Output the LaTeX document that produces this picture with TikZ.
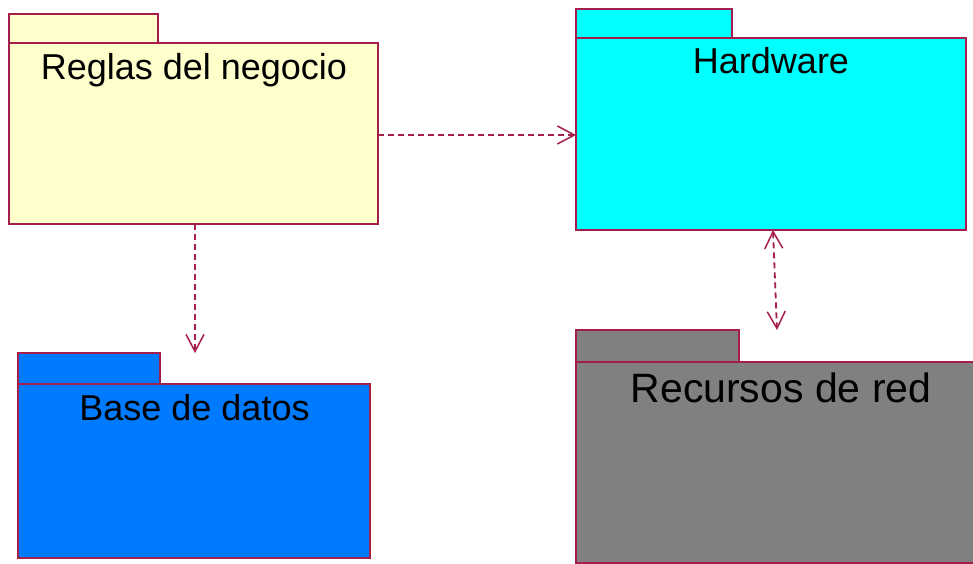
\documentclass[tikz,border=0pt]{standalone}
\usepackage{fontspec}
\setmainfont{Liberation Sans}
\usetikzlibrary{arrows.meta}
\definecolor{edge}{RGB}{165,30,75}
\definecolor{pyellow}{RGB}{255,255,204}
\definecolor{pcyan}{RGB}{0,255,255}
\definecolor{pblue}{RGB}{0,123,255}
\definecolor{pgray}{RGB}{128,128,128}
\tikzset{
  pkg/.style={draw=edge, line width=1.5pt, rectangle, inner sep=0pt, outer sep=0pt, anchor=north west},
  lbl/.style={anchor=base, inner sep=0pt, font=\fontsize{36}{40}\selectfont},
  dep/.style={draw=edge, line width=1.8pt, dash pattern=on 6pt off 4pt,
    -{Straight Barb[length=17pt,width=18pt,line width=1.5pt]}},
  bidep/.style={draw=edge, line width=1.8pt, dash pattern=on 6pt off 4pt,
    {Straight Barb[length=17pt,width=18pt,line width=1.5pt]}-{Straight Barb[length=17pt,width=18pt,line width=1.5pt]}},
}
\begin{document}
\begin{tikzpicture}[x=1pt,y=-1pt]
\useasboundingbox (0,0) rectangle (973,563);
\fill[white] (0,0) rectangle (973,563);
% Reglas del negocio
\node[pkg, fill=pyellow, minimum width=369pt, minimum height=181pt] (rg) at (9,43) {};
\node[pkg, fill=pyellow, minimum width=149pt, minimum height=29pt] (rgtab) at (9,14) {};
\node[lbl] (rgl) at (194,79) {Reglas del negocio};
% Hardware
\node[pkg, fill=pcyan, minimum width=390pt, minimum height=192pt] (hw) at (576,38) {};
\node[pkg, fill=pcyan, minimum width=156pt, minimum height=29pt] (hwtab) at (576,9) {};
\node[lbl] (hwl) at (771,73) {Hardware};
% Base de datos
\node[pkg, fill=pblue, minimum width=352pt, minimum height=174pt] (bd) at (18,384) {};
\node[pkg, fill=pblue, minimum width=142pt, minimum height=31pt] (bdtab) at (18,353) {};
\node[lbl] (bdl) at (194.5,420) {Base de datos};
% Recursos de red
\node[pkg, fill=pgray, minimum width=410pt, minimum height=201pt] (rr) at (576,362) {};
\node[pkg, fill=pgray, minimum width=163pt, minimum height=32pt] (rrtab) at (576,330) {};
\node[lbl, font=\fontsize{41}{45}\selectfont] (rrl) at (781,402) {Recursos de red};
% connectors
\coordinate (rge) at (rg.east |- 0,135);
\coordinate (hww) at (hw.west |- 0,135);
\coordinate (rgs) at (rg.south -| 195,0);
\coordinate (bdt) at (bdtab.north -| 195,0);
\coordinate (hwb) at (hw.south -| 773,0);
\coordinate (rrt) at (rrtab.north -| 777,0);
\draw[dep] (rge) -- (hww);
\draw[dep] (rgs) -- (bdt);
\draw[bidep] (hwb) -- (rrt);
\end{tikzpicture}
\end{document}
